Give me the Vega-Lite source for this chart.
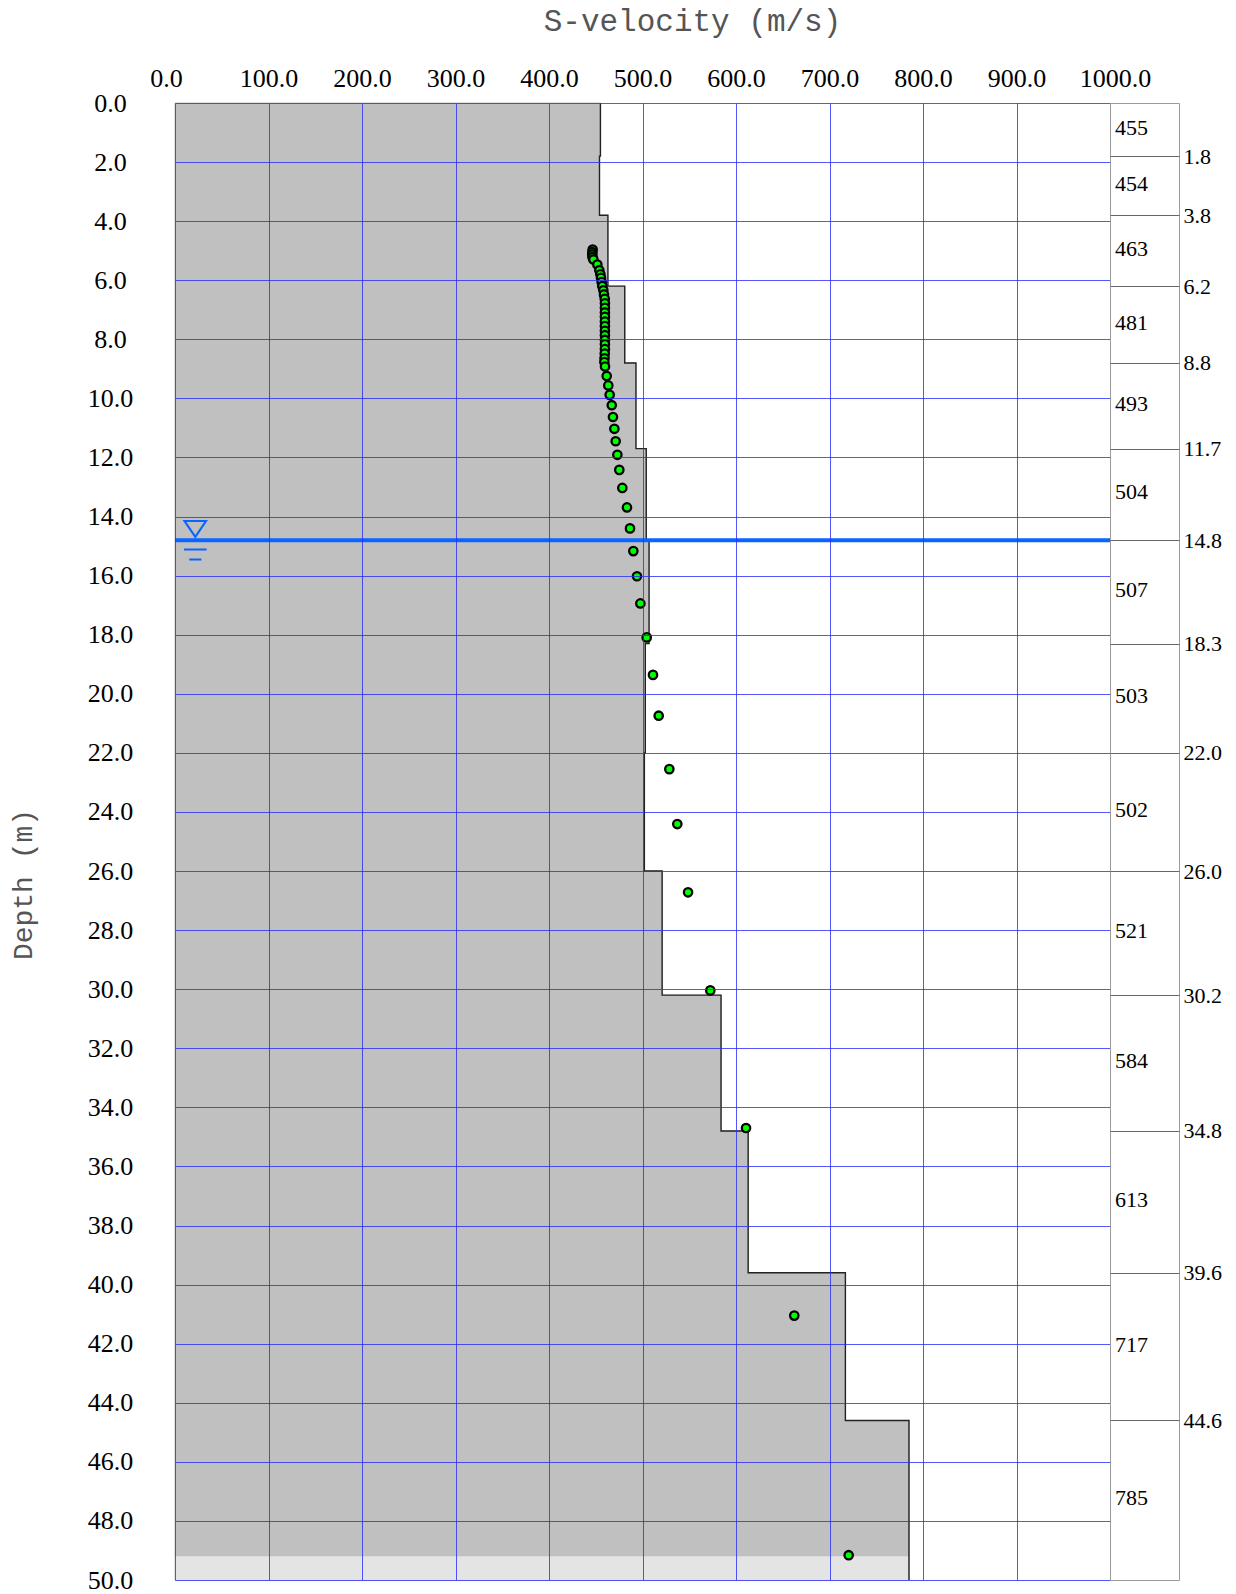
{
  "$schema": "https://vega.github.io/schema/vega-lite/v6.json",
  "padding": {"left": 9, "top": 5, "right": 0, "bottom": 0},
  "background": "white",
  "bounds": "flush",
  "spacing": 0,
  "config": {"view": {"stroke": null}},
  "datasets": {
    "layers": [
      {"top": 0, "bottom": 1.8, "mid": 0.9, "vs": 455},
      {"top": 1.8, "bottom": 3.8, "mid": 2.8, "vs": 454},
      {"top": 3.8, "bottom": 6.2, "mid": 5.0, "vs": 463},
      {"top": 6.2, "bottom": 8.8, "mid": 7.5, "vs": 481},
      {"top": 8.8, "bottom": 11.7, "mid": 10.25, "vs": 493},
      {"top": 11.7, "bottom": 14.8, "mid": 13.25, "vs": 504},
      {"top": 14.8, "bottom": 18.3, "mid": 16.55, "vs": 507},
      {"top": 18.3, "bottom": 22.0, "mid": 20.15, "vs": 503},
      {"top": 22.0, "bottom": 26.0, "mid": 24.0, "vs": 502},
      {"top": 26.0, "bottom": 30.2, "mid": 28.1, "vs": 521},
      {"top": 30.2, "bottom": 34.8, "mid": 32.5, "vs": 584},
      {"top": 34.8, "bottom": 39.6, "mid": 37.2, "vs": 613},
      {"top": 39.6, "bottom": 44.6, "mid": 42.1, "vs": 717},
      {"top": 44.6, "bottom": 50.0, "mid": 47.3, "vs": 785}
    ],
    "outline": [
      {"i": 0, "vs": 455, "depth": 0}, {"i": 1, "vs": 455, "depth": 1.8},
      {"i": 2, "vs": 454, "depth": 1.8}, {"i": 3, "vs": 454, "depth": 3.8},
      {"i": 4, "vs": 463, "depth": 3.8}, {"i": 5, "vs": 463, "depth": 6.2},
      {"i": 6, "vs": 481, "depth": 6.2}, {"i": 7, "vs": 481, "depth": 8.8},
      {"i": 8, "vs": 493, "depth": 8.8}, {"i": 9, "vs": 493, "depth": 11.7},
      {"i": 10, "vs": 504, "depth": 11.7}, {"i": 11, "vs": 504, "depth": 14.8},
      {"i": 12, "vs": 507, "depth": 14.8}, {"i": 13, "vs": 507, "depth": 18.3},
      {"i": 14, "vs": 503, "depth": 18.3}, {"i": 15, "vs": 503, "depth": 22.0},
      {"i": 16, "vs": 502, "depth": 22.0}, {"i": 17, "vs": 502, "depth": 26.0},
      {"i": 18, "vs": 521, "depth": 26.0}, {"i": 19, "vs": 521, "depth": 30.2},
      {"i": 20, "vs": 584, "depth": 30.2}, {"i": 21, "vs": 584, "depth": 34.8},
      {"i": 22, "vs": 613, "depth": 34.8}, {"i": 23, "vs": 613, "depth": 39.6},
      {"i": 24, "vs": 717, "depth": 39.6}, {"i": 25, "vs": 717, "depth": 44.6},
      {"i": 26, "vs": 785, "depth": 44.6}, {"i": 27, "vs": 785, "depth": 50.0}
    ],
    "points": [
      {"v": 446.7, "d": 4.96}, {"v": 446.3, "d": 5.05}, {"v": 446.3, "d": 5.13},
      {"v": 446.5, "d": 5.22}, {"v": 447.5, "d": 5.30}, {"v": 451.7, "d": 5.47},
      {"v": 453.8, "d": 5.66}, {"v": 454.9, "d": 5.80}, {"v": 455.6, "d": 5.92},
      {"v": 456.3, "d": 6.06}, {"v": 457.0, "d": 6.20}, {"v": 458.1, "d": 6.34},
      {"v": 458.8, "d": 6.48}, {"v": 459.6, "d": 6.63}, {"v": 459.8, "d": 6.78},
      {"v": 459.8, "d": 6.93}, {"v": 459.8, "d": 7.09}, {"v": 459.8, "d": 7.24},
      {"v": 459.8, "d": 7.40}, {"v": 459.8, "d": 7.55}, {"v": 459.8, "d": 7.71},
      {"v": 459.8, "d": 7.86}, {"v": 459.8, "d": 8.02}, {"v": 459.8, "d": 8.17},
      {"v": 459.8, "d": 8.33}, {"v": 459.6, "d": 8.48}, {"v": 459.4, "d": 8.64},
      {"v": 459.2, "d": 8.77}, {"v": 459.9, "d": 8.92}, {"v": 461.7, "d": 9.24},
      {"v": 463.4, "d": 9.56}, {"v": 464.9, "d": 9.88}, {"v": 467.1, "d": 10.23},
      {"v": 468.4, "d": 10.63}, {"v": 469.9, "d": 11.03}, {"v": 471.3, "d": 11.45},
      {"v": 473.1, "d": 11.91}, {"v": 475.2, "d": 12.42}, {"v": 478.4, "d": 13.03},
      {"v": 483.4, "d": 13.69}, {"v": 486.6, "d": 14.40}, {"v": 490.2, "d": 15.17},
      {"v": 494.1, "d": 16.02}, {"v": 497.7, "d": 16.94}, {"v": 504.5, "d": 18.09},
      {"v": 511.2, "d": 19.36}, {"v": 517.3, "d": 20.74}, {"v": 528.7, "d": 22.55},
      {"v": 537.2, "d": 24.41}, {"v": 548.7, "d": 26.72}, {"v": 572.5, "d": 30.04},
      {"v": 610.7, "d": 34.70}, {"v": 662.3, "d": 41.05}, {"v": 720.5, "d": 49.16}
    ]
  },
  "hconcat": [
    {
      "width": 935,
      "height": 1477,
      "view": {"stroke": null},
      "layer": [
        {
          "data": {"name": "layers"},
          "mark": {"type": "rect", "fill": "#c0c0c0", "stroke": "#c0c0c0", "strokeWidth": 1},
          "encoding": {
            "x": {
              "field": "vs", "type": "quantitative",
              "scale": {"domain": [0, 1000], "nice": false, "zero": false},
              "title": "S-velocity (m/s)",
              "axis": {
                "orient": "top",
                "values": [0, 100, 200, 300, 400, 500, 600, 700, 800, 900, 1000],
                "format": ".1f",
                "labelFont": "Liberation Serif", "labelFontSize": 26, "labelColor": "black",
                "labelPadding": 12, "labelFlush": false, "labelOverlap": false,
                "labelOffset": {"expr": "datum.value === 0 ? -9 : (datum.value === 1000 ? 5 : 0)"},
                "ticks": false, "tickSize": 0, "domain": false,
                "grid": true, "gridColor": "#2a2aff", "gridOpacity": 0.8, "gridWidth": 1,
                "titleFont": "Liberation Mono", "titleFontSize": 31, "titleFontWeight": "normal",
                "titleColor": "#555555", "titleX": 517, "titleY": -82,
                "titleBaseline": "middle", "titleAlign": "center",
                "zindex": 1
              }
            },
            "x2": {"datum": 0},
            "y": {
              "field": "top", "type": "quantitative",
              "scale": {"domain": [0, 50], "reverse": true, "nice": false, "zero": false},
              "title": "Depth (m)",
              "axis": {
                "orient": "left",
                "values": [0, 2, 4, 6, 8, 10, 12, 14, 16, 18, 20, 22, 24, 26, 28, 30, 32, 34, 36, 38, 40, 42, 44, 46, 48, 50],
                "format": ".1f",
                "labelFont": "Liberation Serif", "labelFontSize": 26, "labelColor": "black",
                "labelAlign": "center", "labelBaseline": "middle",
                "labelPadding": 65, "labelFlush": false, "labelOverlap": false,
                "ticks": false, "tickSize": 0, "domain": false,
                "grid": true, "gridColor": "#2a2aff", "gridOpacity": 0.8, "gridWidth": 1,
                "titleFont": "Liberation Mono", "titleFontSize": 28, "titleFontWeight": "normal",
                "titleColor": "#555555", "titleAngle": 270, "titleX": -152, "titleY": 781,
                "titleBaseline": "middle", "titleAlign": "center",
                "zindex": 1
              }
            },
            "y2": {"field": "bottom"}
          }
        },
        {
          "data": {"values": [{"vs": 785, "top": 49.2, "bottom": 50}]},
          "mark": {"type": "rect", "fill": "#e4e4e4"},
          "encoding": {
            "x": {"field": "vs", "type": "quantitative", "title": "S-velocity (m/s)"},
            "x2": {"datum": 0},
            "y": {"field": "top", "type": "quantitative", "title": "Depth (m)"},
            "y2": {"field": "bottom"}
          }
        },
        {
          "data": {"name": "outline"},
          "mark": {"type": "line", "color": "#222222", "strokeWidth": 1.4},
          "encoding": {
            "x": {"field": "vs", "type": "quantitative", "title": "S-velocity (m/s)"},
            "y": {"field": "depth", "type": "quantitative", "title": "Depth (m)"},
            "order": {"field": "i", "type": "quantitative"}
          }
        },
        {
          "data": {"values": [{"d": 14.8, "x1": 0, "x2": 1000}]},
          "mark": {"type": "rule", "color": "#0a64ff", "strokeWidth": 4},
          "encoding": {
            "x": {"field": "x1", "type": "quantitative", "title": "S-velocity (m/s)"},
            "x2": {"field": "x2"},
            "y": {"field": "d", "type": "quantitative", "title": "Depth (m)"}
          }
        },
        {
          "data": {"values": [{"v": 21.7, "d": 14.8}]},
          "mark": {
            "type": "point",
            "shape": "M-0.556,-0.99L0.556,-0.99L0,-0.17Z M-0.58,0.48L0.58,0.48 M-0.31,0.99L0.31,0.99",
            "size": 1521, "filled": false, "stroke": "#0a64ff", "strokeWidth": 2, "opacity": 1
          },
          "encoding": {
            "x": {"field": "v", "type": "quantitative", "title": "S-velocity (m/s)"},
            "y": {"field": "d", "type": "quantitative", "title": "Depth (m)"}
          }
        },
        {
          "data": {"name": "points"},
          "mark": {"type": "circle", "fill": "#00ff00", "stroke": "black", "strokeWidth": 2.3, "size": 70, "opacity": 1},
          "encoding": {
            "x": {"field": "v", "type": "quantitative", "title": "S-velocity (m/s)"},
            "y": {"field": "d", "type": "quantitative", "title": "Depth (m)"}
          }
        }
      ]
    },
    {
      "width": 69,
      "height": 1477,
      "view": {"stroke": "#9a9a9a"},
      "data": {"name": "layers"},
      "mark": {"type": "text", "align": "left", "baseline": "middle", "font": "Liberation Serif", "fontSize": 22, "dx": 5, "dy": -2, "color": "black"},
      "encoding": {
        "x": {"datum": 0, "type": "quantitative", "scale": {"domain": [0, 1]}, "axis": null},
        "y": {
          "field": "mid", "type": "quantitative",
          "scale": {"domain": [0, 50], "reverse": true, "nice": false, "zero": false},
          "axis": {
            "orient": "right",
            "values": [1.8, 3.8, 6.2, 8.8, 11.7, 14.8, 18.3, 22.0, 26.0, 30.2, 34.8, 39.6, 44.6],
            "format": ".1f",
            "grid": true, "gridColor": "#666666", "gridWidth": 1,
            "domain": false, "ticks": false, "tickSize": 0,
            "labelPadding": 4, "labelFont": "Liberation Serif", "labelFontSize": 22,
            "labelColor": "black", "labelFlush": false, "labelOverlap": false,
            "title": null
          }
        },
        "text": {"field": "vs", "type": "quantitative"}
      }
    }
  ]
}
